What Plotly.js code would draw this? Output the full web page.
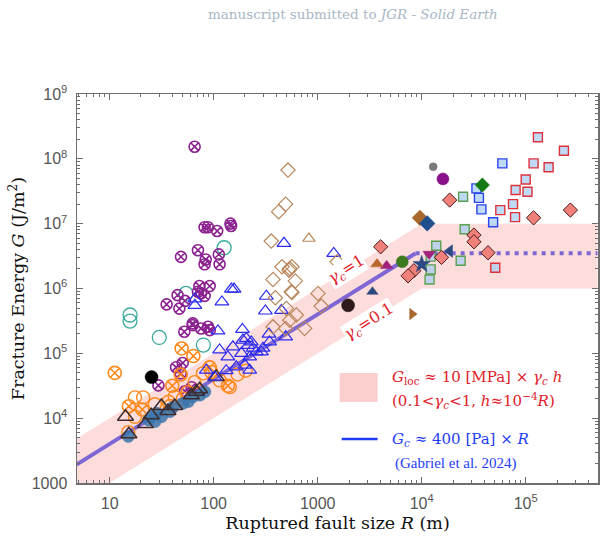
<!DOCTYPE html>
<html>
<head>
<meta charset="utf-8">
<script src="https://cdn.plot.ly/plotly-3.0.1.min.js"></script>
<style>
  html, body { margin: 0; padding: 0; background: #fff; }
  #chart { width: 606px; height: 544px; }
</style>
</head>
<body>
<div id="chart"></div>
<script>
// ---- Fracture-energy compilation: rupture size R (m) vs fracture energy G (J/m^2) ----

// Small-event compilations (open symbols)
const purpleXR = [65.6, 81.8, 88, 108, 145, 147, 70.6, 83.8, 81.8, 112, 114, 48.5, 73, 91.5, 70.6, 81.8,
                  45, 35.3, 46.8, 53, 75.5, 62.8, 75.5, 52.2, 63, 91.6, 88.3, 50.4, 43.5, 48.2, 29.4, 61.4, 53];
const purpleXG = [1.54e8, 8.8e6, 8.8e6, 7.7e6, 1.0e7, 9.2e6, 3.9e6, 2.8e6, 2.36e6, 3.36e6, 2.36e6, 3.08e6, 1.09e6, 1.09e6, 8.9e5, 7.7e5,
                  7.9e5, 5.7e5, 4.9e5, 6.45e5, 8.4e5, 2.72e5, 2.42e5, 2.15e5, 2.9e5, 2.28e5, 2.57e5, 7.1e4, 6.1e4, 4.9e4, 3.2e4, 3.0e4, 2.6e4];

const tealR = [15.7, 15.7, 30, 54.2, 79.6, 126];
const tealG = [3.9e5, 3.14e5, 1.76e5, 8.4e5, 1.34e5, 4.25e6];

const orangeXR = [11.2, 49.2, 63.8, 40, 48.2, 91.6, 137, 15.3, 20.6];
const orangeXG = [5.0e4, 1.19e5, 9.1e4, 3.16e4, 4.7e4, 6.07e4, 3.16e4, 1.53e4, 1.36e4];

const orangeOR = [17.5, 21, 17.5, 15.1, 36.8, 42.2, 78.8, 114, 143, 65.6, 50.7, 95, 38, 27.2, 56.2, 170, 203];
const orangeOG = [2.09e4, 2.09e4, 1.05e4, 6.1e3, 1.79e4, 2.14e4, 4.9e4, 3.83e4, 3.02e4, 3.6e4, 2.0e4, 5.15e4, 1.54e4, 1.64e4, 2.52e4, 4.72e4, 5.4e4];

const steelR = [15.1, 23.6, 27.3, 31.6, 38, 40.9, 50.7, 57.1, 63.7, 73.8, 82.4, 25.3, 28.3];
const steelG = [5.2e3, 9.3e3, 8.8e3, 1.05e4, 1.26e4, 1.49e4, 1.69e4, 1.79e4, 2.14e4, 2.26e4, 2.55e4, 1.05e4, 1.2e4];

const darkTriR = [14.2, 15.3, 22, 25.1, 31.4, 36.3, 42.2, 61, 68.2, 106, 73.3];
const darkTriG = [1.05e4, 5.66e3, 8.1e3, 1.11e4, 1.54e4, 1.29e4, 1.54e4, 2.26e4, 2.55e4, 4.3e4, 2.8e4];

const blueTriR = [474, 1426, 148, 157, 120, 321, 314, 448, 66, 66, 189, 110, 340, 191, 153, 214, 239, 114, 288, 345,
                  206, 230, 492, 137, 185, 222, 257, 298, 165, 199, 85, 102, 132, 222];
const blueTriG = [4.97e6, 3.48e6, 9.8e5, 9.8e5, 6.2e5, 7.6e5, 4.5e5, 4.6e5, 6.9e5, 5.5e5, 2.34e5, 2.22e5, 1.98e5, 1.6e5, 1.26e5, 1.33e5, 1.2e5, 1.13e5, 1.05e5, 1.5e5,
                  1.7e5, 1.5e5, 1.8e5, 8.8e4, 1.0e5, 8.8e4, 1.05e5, 1.2e5, 6.2e4, 6.6e4, 5.5e4, 4.3e4, 5.4e4, 5.5e4];

const tanDiaR = [518, 492, 422, 358, 454, 538, 566, 1540, 372, 610, 392, 566, 1007, 1081, 500, 624, 372, 538, 750, 492, 530, 558];
const tanDiaG = [6.7e7, 2.0e7, 1.53e7, 5.38e6, 2.16e6, 2.04e6, 2.16e6, 2.58e6, 1.38e6, 1.31e6, 7.2e5, 8.7e5, 8.4e5, 5.35e5, 4.93e5, 3.9e5, 2.56e5, 3.25e5, 2.42e5, 2.42e5, 1.92e6, 8.9e5];
const tanTriR = [824];
const tanTriG = [5.9e6];

// Large earthquakes
const salmonR = [4030, 1.86e4, 3.18e4, 3.18e4, 4.34e4, 1.55e4, 8.4e3, 7.4e3, 1.19e5, 2.69e5];
const salmonG = [4.4e6, 2.31e7, 6.67e6, 5.26e6, 3.56e6, 3.02e6, 1.88e6, 1.57e6, 1.23e7, 1.62e7];

const redSqR = [1.31e5, 2.33e5, 1.19e5, 1.66e5, 1.0e5, 8.0e4, 1.04e5, 7.55e4, 5.7e4, 7.9e4, 5.1e4];
const redSqG = [2.15e8, 1.33e8, 8.5e7, 7.4e7, 4.8e7, 3.3e7, 3.1e7, 2.0e7, 1.62e7, 1.26e7, 2.09e6];

const blueSqR = [3.36e4, 3.55e4, 3.75e4, 4.86e4, 5.96e4];
const blueSqG = [3.5e7, 2.5e7, 1.66e7, 1.05e7, 8.5e7];

const greenSqR = [2.5e4, 2.59e4, 1.38e4, 1.22e4, 1.22e4, 1.19e4, 2.37e4];
const greenSqG = [2.6e7, 8.2e6, 4.56e6, 3.1e6, 1.97e6, 1.38e6, 2.68e6];

// Individual events
const singleEvents = [
  { name: 'grayDot',      R: 1.29e4, G: 7.55e7, symbol: 'circle',         color: '#7a7a7a', size: 8 },
  { name: 'purpleDot',    R: 1.6e4,  G: 4.9e7,  symbol: 'circle',         color: '#8a0f8a', size: 12 },
  { name: 'greenDiamond', R: 3.83e4, G: 3.95e7, symbol: 'diamond',        color: '#157a15', size: 11 },
  { name: 'brownDiamond', R: 9.6e3,  G: 1.23e7, symbol: 'diamond',        color: '#a8682c', size: 12 },
  { name: 'navyDiamond',  R: 1.13e4, G: 1.01e7, symbol: 'diamond',        color: '#1f4f8c', size: 12 },
  { name: 'navyStar',     R: 1.0e4,  G: 2.36e6, symbol: 'star',           color: '#2c4a82', size: 13 },
  { name: 'magentaDown',  R: 1.18e4, G: 3.4e6,  symbol: 'triangle-down',  color: '#a3237c', size: 11 },
  { name: 'navyLeft',     R: 1.86e4, G: 3.78e6, symbol: 'triangle-left',  color: '#2c4a82', size: 11 },
  { name: 'greenDot',     R: 6.5e3,  G: 2.58e6, symbol: 'circle',         color: '#3d7a1f', size: 12 },
  { name: 'magentaUp',    R: 4.6e3,  G: 2.24e6, symbol: 'triangle-up',    color: '#a3237c', size: 11 },
  { name: 'brownUp',      R: 3.72e3, G: 2.38e6, symbol: 'triangle-up',    color: '#b8682c', size: 11 },
  { name: 'navyUp',       R: 3.36e3, G: 8.9e5,  symbol: 'triangle-up',    color: '#2c4a82', size: 10 },
  { name: 'brownRight',   R: 8.1e3,  G: 4.03e5, symbol: 'triangle-right', color: '#a8682c', size: 10 },
  { name: 'darkDot',      R: 1.96e3, G: 5.5e5,  symbol: 'circle',         color: '#2e1a1c', size: 13 },
  { name: 'blackDot',     R: 25.3,   G: 4.3e4,  symbol: 'circle',         color: '#000000', size: 13 }
];

// ---- Scaling models ----
const modelR = [4.8, 8750, 1e4, 4.9e5];     // rupture sizes where the models are evaluated
const GC_PA = 400;                           // G_c ≈ 400 Pa × R (Gabriel et al. 2024)
const R_SAT = 8750;                          // G_c saturates beyond this size
const SIGMA_PA = 1e7;                        // 10 MPa
const H_RATIO = 1e-4;                        // h ≈ 1e-4 R
const GAMMA_LO = 0.1, GAMMA_HI = 1;          // 0.1 < γc < 1
const R_BAND_SAT = 1e4;                      // h stops growing beyond this size

function gLoc(gamma, R) { return SIGMA_PA * gamma * H_RATIO * Math.min(R, R_BAND_SAT); }
function gC(R) { return GC_PA * Math.min(R, R_SAT); }

const bandR = [modelR[0], R_BAND_SAT, modelR[3]];
const bandHi = bandR.map(r => gLoc(GAMMA_HI, r));
const bandLo = bandR.map(r => gLoc(GAMMA_LO, r));

const solidR = [modelR[0], R_SAT];
const dotR = [R_SAT, modelR[3]];

const traces = [];

// pink band γc ∈ [0.1, 1]
traces.push({ x: bandR, y: bandLo, mode: 'lines', line: { width: 0, color: 'rgba(0,0,0,0)' }, hoverinfo: 'skip', showlegend: false });
traces.push({ x: bandR, y: bandHi, mode: 'lines', fill: 'tonexty', fillcolor: '#fddcdc', line: { width: 0, color: 'rgba(0,0,0,0)' }, hoverinfo: 'skip', showlegend: false });

// G_c scaling line and its saturated continuation
traces.push({ x: solidR, y: solidR.map(gC), mode: 'lines', line: { color: '#7e66d4', width: 4 }, showlegend: false });
traces.push({ x: dotR, y: dotR.map(gC), mode: 'lines', line: { color: '#7e66d4', width: 4, dash: '4px,5px' }, showlegend: false });

function markers(x, y, symbol, color, size, opts) {
  opts = opts || {};
  return {
    x: x, y: y, mode: 'markers', type: 'scatter', showlegend: false,
    marker: {
      symbol: symbol, size: size,
      color: opts.fill || color,
      opacity: opts.opacity || 1,
      line: { color: opts.edge || color, width: opts.lw || 1.4 }
    }
  };
}

traces.push(markers(tealR, tealG, 'circle-open', '#3aa99b', 14, { lw: 1.3 }));
traces.push(markers(purpleXR, purpleXG, 'circle-x-open', '#8b2290', 11, { lw: 1.6 }));
traces.push(markers(orangeOR, orangeOG, 'circle-open', '#ff8a1c', 13, { lw: 1.4 }));
traces.push(markers(orangeXR, orangeXG, 'circle-x-open', '#ff8a1c', 13, { lw: 1.6 }));
traces.push(markers(steelR, steelG, 'circle', 'rgba(58,118,172,0.85)', 12, { edge: 'rgba(58,118,172,0.4)', lw: 1 }));
traces.push(markers(darkTriR, darkTriG, 'triangle-up-open', '#3c2c30', 14, { lw: 1.5 }));
traces.push(markers(blueTriR, blueTriG, 'triangle-up-open', '#2b2bf0', 12, { lw: 1.2 }));
traces.push(markers(tanDiaR, tanDiaG, 'diamond-open', '#b9875c', 11, { lw: 1.2 }));
traces.push(markers(tanTriR, tanTriG, 'triangle-up-open', '#b9875c', 11, { lw: 1.2 }));
traces.push(markers(greenSqR, greenSqG, 'square', '#5aa050', 9, { fill: 'rgba(170,205,240,0.75)', edge: '#5aa050', lw: 1.4 }));
traces.push(markers(blueSqR, blueSqG, 'square', '#2a44f0', 9, { fill: 'rgba(170,205,240,0.75)', edge: '#2a44f0', lw: 1.4 }));
traces.push(markers(redSqR, redSqG, 'square', '#e0303a', 9, { fill: 'rgba(170,205,240,0.75)', edge: '#e0303a', lw: 1.4 }));
traces.push(markers(salmonR, salmonG, 'diamond', '#f0807a', 11, { fill: '#f0807a', edge: '#4a1c1c', lw: 1 }));
singleEvents.forEach(ev => traces.push(markers([ev.R], [ev.G], ev.symbol, ev.color, ev.size, { lw: 0.5, edge: ev.color })));

// ---- Axes ----
const xTickVals = [10, 100, 1000, 1e4, 1e5];
const xTickText = ['10', '100', '1000', '10<sup>4</sup>', '10<sup>5</sup>'];
const yTickVals = [1e3, 1e4, 1e5, 1e6, 1e7, 1e8, 1e9];
const yTickText = ['1000', '10<sup>4</sup>', '10<sup>5</sup>', '10<sup>6</sup>', '10<sup>7</sup>', '10<sup>8</sup>', '10<sup>9</sup>'];

function minorTicks(d0, d1) {
  const v = [];
  for (let d = d0; d <= d1; d++) for (let k = 2; k <= 9; k++) v.push(k * Math.pow(10, d));
  return v;
}

const axisCommon = {
  type: 'log', showgrid: false, zeroline: false,
  showline: true, linecolor: '#6e6e6e', linewidth: 1.5, mirror: 'ticks',
  ticks: 'inside', ticklen: 6, tickwidth: 1.2, tickcolor: '#6e6e6e',
  tickmode: 'array',
  tickfont: { family: 'Liberation Sans, Arial, sans-serif', size: 16, color: '#555555' },
  ticklabelstandoff: 5
};

const serif = 'DejaVu Serif, Liberation Serif, serif';

const layout = {
  width: 606, height: 544,
  margin: { l: 77, r: 8, t: 94, b: 61, pad: 0 },
  paper_bgcolor: '#ffffff', plot_bgcolor: '#ffffff',
  showlegend: false,
  xaxis: Object.assign({}, axisCommon, {
    range: [0.686, 5.695],
    tickvals: xTickVals, ticktext: xTickText,
    minor: { tickmode: 'array', tickvals: minorTicks(0, 5), ticks: 'inside', ticklen: 3, tickcolor: '#6e6e6e', tickwidth: 1, showgrid: false },
    title: { text: 'Ruptured fault size <i>R</i> (m)', font: { family: serif, size: 17.5, color: '#111111' }, standoff: 6 }
  }),
  yaxis: Object.assign({}, axisCommon, {
    range: [3, 9],
    tickvals: yTickVals, ticktext: yTickText,
    minor: { tickmode: 'array', tickvals: minorTicks(3, 8), ticks: 'inside', ticklen: 3, tickcolor: '#6e6e6e', tickwidth: 1, showgrid: false },
    title: { text: 'Fracture Energy <i>G</i> (J/m<sup>2</sup>)', font: { family: serif, size: 17.5, color: '#111111' }, standoff: 2 }
  }),
  shapes: [
    { type: 'rect', xref: 'paper', yref: 'paper', x0: 0.504, x1: 0.577, y0: 0.208, y1: 0.283, fillcolor: '#fccfcf', line: { width: 0 } },
    { type: 'line', xref: 'paper', yref: 'paper', x0: 0.508, x1: 0.577, y0: 0.113, y1: 0.113, line: { color: '#1f3cf5', width: 2.5 } }
  ],
  annotations: [
    { xref: 'paper', yref: 'paper', x: 0.811, y: 1.2057, xanchor: 'right', yanchor: 'middle', showarrow: false,
      text: 'manuscript submitted to <i>JGR - Solid Earth</i>', font: { family: serif, size: 13.5, color: '#a9b7c5' } },
    { xref: 'paper', yref: 'paper', x: 0.518, y: 0.548, showarrow: false, textangle: -32,
      text: '<i>γ<sub>c</sub></i>=1', font: { family: serif, size: 16, color: '#e0202a' }, bgcolor: '#ffffff', borderpad: 0 },
    { xref: 'paper', yref: 'paper', x: 0.562, y: 0.414, showarrow: false, textangle: -32,
      text: '<i>γ<sub>c</sub></i>=0.1', font: { family: serif, size: 16, color: '#e0202a' }, bgcolor: '#ffffff', borderpad: 0 },
    { xref: 'paper', yref: 'paper', x: 0.600, y: 0.270, xanchor: 'left', yanchor: 'middle', showarrow: false,
      text: '<i>G</i><sub>loc</sub> ≈ 10 [MPa] × <i>γ<sub>c</sub> h</i>', font: { family: serif, size: 15, color: '#e0202a' } },
    { xref: 'paper', yref: 'paper', x: 0.600, y: 0.213, xanchor: 'left', yanchor: 'middle', showarrow: false,
      text: '(0.1&lt;<i>γ<sub>c</sub></i>&lt;1, <i>h</i>≈10<sup>−4</sup><i>R</i>)', font: { family: serif, size: 15, color: '#e0202a' } },
    { xref: 'paper', yref: 'paper', x: 0.600, y: 0.113, xanchor: 'left', yanchor: 'middle', showarrow: false,
      text: '<i>G<sub>c</sub></i> ≈ 400 [Pa] × <i>R</i>', font: { family: serif, size: 15, color: '#1f3cf5' } },
    { xref: 'paper', yref: 'paper', x: 0.728, y: 0.051, xanchor: 'center', yanchor: 'middle', showarrow: false,
      text: '(Gabriel et al. 2024)', font: { family: 'Liberation Serif, serif', size: 15, color: '#1f3cf5' } }
  ]
};

Plotly.newPlot('chart', traces, layout, { staticPlot: true, displayModeBar: false });
</script>
</body>
</html>
